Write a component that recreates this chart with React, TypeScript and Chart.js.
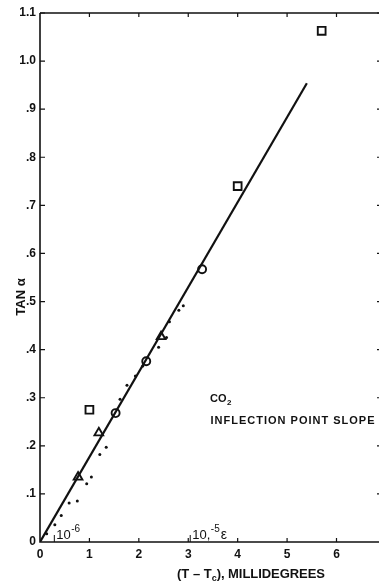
import React, { useEffect, useRef } from "react";
import { Chart, registerables } from "chart.js";

Chart.register(...registerables);

// Measured slopes: squares, circles, triangles and small dots
const squareX = [1.0, 4.0, 5.7];
const squareY = [0.275, 0.74, 1.063];

const circleX = [1.53, 2.15, 3.28];
const circleY = [0.268, 0.376, 0.567];

const triangleX = [0.77, 1.19, 2.45];
const triangleY = [0.135, 0.227, 0.427];

const dotX = [0.135, 0.3, 0.43, 0.59, 0.755, 0.945, 1.04, 1.21, 1.34, 1.62, 1.76, 1.93, 2.08, 2.4, 2.56, 2.62, 2.81, 2.9];
const dotY = [0.017, 0.036, 0.055, 0.081, 0.085, 0.121, 0.135, 0.182, 0.197, 0.297, 0.326, 0.345, 0.366, 0.405, 0.425, 0.458, 0.482, 0.491];

// Straight-line fit through the origin
const fitX = [0, 5.4];
const fitY = [0, 0.954];

// Axis ticks
const xTickValues = [0, 1, 2, 3, 4, 5, 6];
const xTickLabels = ["0", "1", "2", "3", "4", "5", "6"];
const yTickValues = [0, 0.1, 0.2, 0.3, 0.4, 0.5, 0.6, 0.7, 0.8, 0.9, 1.0, 1.1];
const yTickLabels = ["0", ".1", ".2", ".3", ".4", ".5", ".6", ".7", ".8", ".9", "1.0", "1.1"];

// Reduced-temperature markers along the x axis
const epsMarkX = [0.29, 3.04];
const epsMarkExp = ["-6", "-5"];

const X_MAX = 6.86;
const Y_MAX = 1.1;
const INK = "#111";
const FONT = "'Liberation Sans', Arial, sans-serif";

const pts = (xs: number[], ys: number[]) => xs.map((x, i) => ({ x, y: ys[i] }));

// draw a string spread to a given overall width
function spreadText(ctx: CanvasRenderingContext2D, text: string, x: number, y: number, width: number) {
  (ctx as any).letterSpacing = "0px";
  const w = ctx.measureText(text).width;
  const gap = (width - w) / Math.max(text.length - 1, 1);
  (ctx as any).letterSpacing = `${gap}px`;
  ctx.fillText(text, x, y);
  (ctx as any).letterSpacing = "0px";
}

const framePlugin = {
  id: "frame",
  afterDraw(chart: any) {
    const { ctx, chartArea: a, scales } = chart;
    const xs = scales.x;
    const ys = scales.y;
    ctx.save();
    ctx.strokeStyle = INK;
    ctx.fillStyle = INK;
    ctx.lineWidth = 1.6;
    ctx.lineCap = "butt";

    // axis lines: left, bottom, top
    ctx.beginPath();
    ctx.moveTo(a.left, a.top);
    ctx.lineTo(a.left, a.bottom);
    ctx.lineTo(a.right, a.bottom);
    ctx.moveTo(a.left, a.top);
    ctx.lineTo(a.right, a.top);
    ctx.stroke();

    // inward ticks
    ctx.lineWidth = 1.2;
    ctx.beginPath();
    xTickValues.forEach((v) => {
      if (v === 0) return;
      const px = xs.getPixelForValue(v);
      ctx.moveTo(px, a.bottom);
      ctx.lineTo(px, a.bottom - 4);
      ctx.moveTo(px, a.top);
      ctx.lineTo(px, a.top + 4);
    });
    yTickValues.forEach((v) => {
      if (v === 0) return;
      const py = ys.getPixelForValue(v);
      ctx.moveTo(a.left, py);
      ctx.lineTo(a.left + 5, py);
      ctx.moveTo(a.right, py);
      ctx.lineTo(a.right - 2, py);
    });
    ctx.stroke();

    // epsilon markers
    ctx.lineWidth = 1;
    epsMarkX.forEach((v, i) => {
      const px = xs.getPixelForValue(v);
      ctx.beginPath();
      ctx.moveTo(px, a.bottom);
      ctx.lineTo(px, a.bottom - 7);
      ctx.stroke();
      ctx.font = `13px ${FONT}`;
      ctx.textBaseline = "alphabetic";
      ctx.textAlign = "left";
      let tx = px + 2;
      const head = i === 1 ? "10," : "10";
      ctx.fillText(head, tx, a.bottom - 3);
      tx += ctx.measureText(head).width + 0.5;
      ctx.font = `10px ${FONT}`;
      ctx.fillText(epsMarkExp[i], tx, a.bottom - 10);
      tx += ctx.measureText(epsMarkExp[i]).width + 1;
      if (i === 1) {
        ctx.font = `14px ${FONT}`;
        ctx.fillText("\u03B5", tx, a.bottom - 3);
      }
    });

    // annotation
    ctx.textAlign = "left";
    ctx.textBaseline = "alphabetic";
    ctx.font = `bold 11px ${FONT}`;
    ctx.fillText("CO", 210, 402);
    const coW = ctx.measureText("CO").width;
    ctx.font = `bold 8px ${FONT}`;
    ctx.fillText("2", 210 + coW + 0.5, 405);
    ctx.font = `bold 11px ${FONT}`;
    spreadText(ctx, "INFLECTION POINT SLOPE", 210.5, 423.5, 164);

    // y title
    ctx.save();
    ctx.translate(25, 297);
    ctx.rotate(-Math.PI / 2);
    ctx.textAlign = "center";
    ctx.textBaseline = "alphabetic";
    ctx.font = `bold 13px ${FONT}`;
    ctx.fillText("TAN \u03B1", 0, 0);
    ctx.restore();

    // x title
    ctx.font = `bold 13px ${FONT}`;
    let x0 = 177;
    const base = 578;
    const part1 = "(T \u2013 T";
    ctx.fillText(part1, x0, base);
    x0 += ctx.measureText(part1).width;
    ctx.font = `bold 9px ${FONT}`;
    ctx.fillText("c", x0, base + 3);
    x0 += ctx.measureText("c").width;
    ctx.font = `bold 13px ${FONT}`;
    spreadText(ctx, "), MILLIDEGREES", x0, base, 325 - x0);

    ctx.restore();
  },
};

export default function App() {
  const ref = useRef<HTMLCanvasElement | null>(null);

  useEffect(() => {
    if (!ref.current) return;
    const marker = {
      borderColor: INK,
      backgroundColor: "#fff",
      borderWidth: 1.9,
      showLine: false,
    };
    const chart = new Chart(ref.current, {
      type: "scatter",
      data: {
        datasets: [
          {
            label: "fit",
            data: pts(fitX, fitY),
            showLine: true,
            borderColor: INK,
            borderWidth: 2.2,
            pointRadius: 0,
            fill: false,
          },
          {
            label: "dots",
            data: pts(dotX, dotY),
            pointStyle: "circle",
            pointRadius: 1.5,
            backgroundColor: INK,
            borderColor: INK,
            borderWidth: 0,
            showLine: false,
          },
          { label: "squares", data: pts(squareX, squareY), pointStyle: "rect", pointRadius: 5.5, ...marker },
          { label: "circles", data: pts(circleX, circleY), pointStyle: "circle", pointRadius: 4, ...marker },
          { label: "triangles", data: pts(triangleX, triangleY), pointStyle: "triangle", pointRadius: 5, ...marker },
        ],
      },
      options: {
        animation: false,
        responsive: true,
        maintainAspectRatio: false,
        devicePixelRatio: 1,
        layout: { autoPadding: false, padding: { top: 13, left: 0, right: 0, bottom: 0 } },
        plugins: { legend: { display: false }, tooltip: { enabled: false } },
        scales: {
          x: {
            type: "linear",
            min: 0,
            max: X_MAX,
            grid: { display: false, drawTicks: false },
            border: { display: false },
            afterBuildTicks: (s: any) => {
              s.ticks = xTickValues.map((v) => ({ value: v }));
            },
            afterFit: (s: any) => {
              s.height = 39;
              s.paddingLeft = 0;
              s.paddingRight = 0;
            },
            ticks: {
              color: INK,
              padding: 5,
              maxRotation: 0,
              autoSkip: false,
              font: { family: FONT, size: 12, weight: "bold" },
              callback: (v: any) => xTickLabels[xTickValues.indexOf(Number(v))] ?? "",
            },
          },
          y: {
            type: "linear",
            min: 0,
            max: Y_MAX,
            grid: { display: false, drawTicks: false },
            border: { display: false },
            afterBuildTicks: (s: any) => {
              s.ticks = yTickValues.map((v) => ({ value: v }));
            },
            afterFit: (s: any) => {
              s.width = 40;
              s.paddingTop = 0;
              s.paddingBottom = 0;
            },
            ticks: {
              color: INK,
              padding: 4,
              autoSkip: false,
              font: { family: FONT, size: 12, weight: "bold" },
              callback: (v: any) => {
                const i = yTickValues.findIndex((t) => Math.abs(t - Number(v)) < 1e-6);
                return i >= 0 ? yTickLabels[i] : "";
              },
            },
          },
        },
      },
      plugins: [framePlugin],
    } as any);
    return () => chart.destroy();
  }, []);

  return (
    <div style={{ position: "absolute", left: 0, top: 0, width: 379, height: 581, background: "#fff" }}>
      <canvas ref={ref} />
    </div>
  );
}
